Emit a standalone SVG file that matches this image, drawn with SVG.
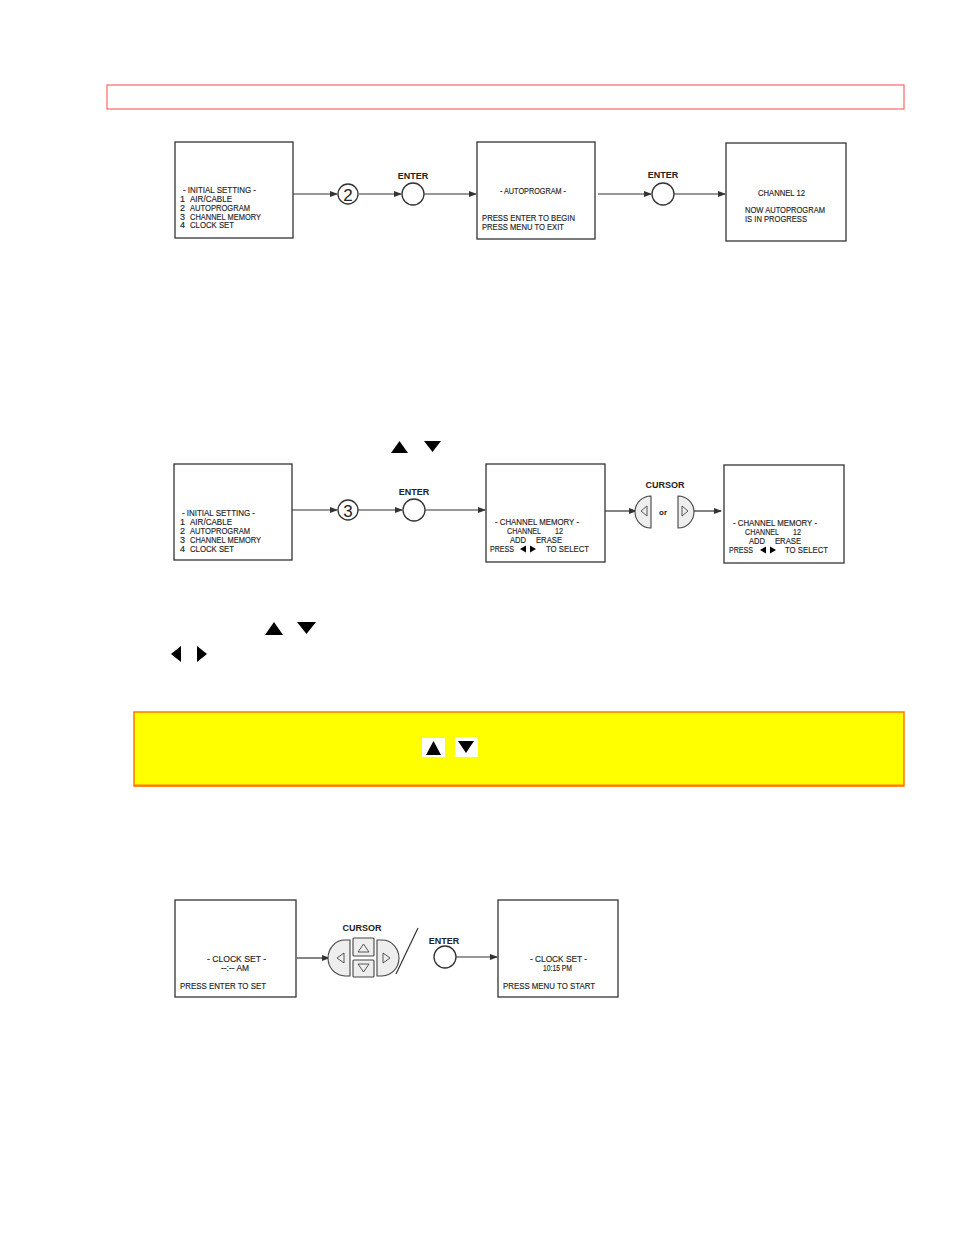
<svg xmlns="http://www.w3.org/2000/svg" width="954" height="1235" viewBox="0 0 954 1235">
<style>
.box{fill:#fff;stroke:#333;stroke-width:1.3}
.t{font-family:"Liberation Sans",Arial,sans-serif;font-size:9px;fill:#1e1e1e;stroke:#1e1e1e;stroke-width:0.15}
.c{text-anchor:middle}
.b{font-family:"Liberation Sans",Arial,sans-serif;font-size:9px;font-weight:bold;fill:#222;text-anchor:middle}
.ln{stroke:#333;stroke-width:1.2;fill:none}
.circ{fill:#fff;stroke:#333;stroke-width:1.3}
.btn{fill:#eee;stroke:#444;stroke-width:1.1}
.tri{fill:#000}
.otri{fill:none;stroke:#444;stroke-width:0.9}
.num{font-family:"Liberation Sans",Arial,sans-serif;font-size:17px;fill:#222;text-anchor:middle}
</style>
<defs>
<marker id="ah" markerWidth="8" markerHeight="6" refX="7" refY="3" orient="auto" markerUnits="userSpaceOnUse">
<path d="M0,0 L8,3 L0,6 Z" fill="#333"/>
</marker>
</defs>
<rect width="954" height="1235" fill="#fff"/>
<rect x="107" y="85" width="797" height="24" fill="none" stroke="#ff7070" stroke-width="1.3"/>

<g id="connectors">
<line class="ln" x1="293" y1="194" x2="337" y2="194" marker-end="url(#ah)"/>
<line class="ln" x1="359" y1="194" x2="401" y2="194" marker-end="url(#ah)"/>
<line class="ln" x1="424" y1="194" x2="476" y2="194" marker-end="url(#ah)"/>
<line class="ln" x1="598" y1="194" x2="651" y2="194" marker-end="url(#ah)"/>
<line class="ln" x1="674" y1="194" x2="725" y2="194" marker-end="url(#ah)"/>
<line class="ln" x1="292" y1="510" x2="337" y2="510" marker-end="url(#ah)"/>
<line class="ln" x1="358" y1="510" x2="402" y2="510" marker-end="url(#ah)"/>
<line class="ln" x1="425" y1="510" x2="485" y2="510" marker-end="url(#ah)"/>
<line class="ln" x1="605" y1="511" x2="636" y2="511" marker-end="url(#ah)"/>
<line class="ln" x1="694" y1="511" x2="721" y2="511" marker-end="url(#ah)"/>
<line class="ln" x1="297" y1="958" x2="329" y2="958" marker-end="url(#ah)"/>
<line class="ln" x1="456" y1="957" x2="497" y2="957" marker-end="url(#ah)"/>
</g>

<g id="box1">
<rect class="box" x="175" y="142" width="118" height="96"/>
<text class="t" x="183" y="193" textLength="73" lengthAdjust="spacingAndGlyphs">- INITIAL SETTING -</text>
<text class="t" x="180" y="202">1</text><text class="t" x="190" y="202" textLength="42" lengthAdjust="spacingAndGlyphs">AIR/CABLE</text>
<text class="t" x="180" y="211">2</text><text class="t" x="190" y="211" textLength="60" lengthAdjust="spacingAndGlyphs">AUTOPROGRAM</text>
<text class="t" x="180" y="219.5">3</text><text class="t" x="190" y="219.5" textLength="71" lengthAdjust="spacingAndGlyphs">CHANNEL MEMORY</text>
<text class="t" x="180" y="228">4</text><text class="t" x="190" y="228" textLength="44" lengthAdjust="spacingAndGlyphs">CLOCK SET</text>
</g>
<g id="step2">
<circle class="circ" cx="348" cy="194" r="10"/>
<text class="num" x="348" y="200.5">2</text>
</g>
<g id="enter1">
<text class="b" x="413" y="179">ENTER</text>
<circle class="circ" cx="413" cy="194" r="11"/>
</g>
<g id="box2">
<rect class="box" x="477" y="142" width="118" height="97"/>
<text class="t" x="500" y="194" textLength="66" lengthAdjust="spacingAndGlyphs">- AUTOPROGRAM -</text>
<text class="t" x="482" y="220.5" textLength="93" lengthAdjust="spacingAndGlyphs">PRESS ENTER TO BEGIN</text>
<text class="t" x="482" y="229.5" textLength="82" lengthAdjust="spacingAndGlyphs">PRESS MENU TO EXIT</text>
</g>
<g id="enter2">
<text class="b" x="663" y="178">ENTER</text>
<circle class="circ" cx="663" cy="194" r="11"/>
</g>
<g id="box3">
<rect class="box" x="726" y="143" width="120" height="98"/>
<text class="t" x="758" y="195.5" textLength="47" lengthAdjust="spacingAndGlyphs">CHANNEL  12</text>
<text class="t" x="745" y="213" textLength="80" lengthAdjust="spacingAndGlyphs">NOW AUTOPROGRAM</text>
<text class="t" x="745" y="221.5" textLength="62" lengthAdjust="spacingAndGlyphs">IS IN PROGRESS</text>
</g>

<g id="updown1">
<path class="tri" d="M391,453 L399.5,441 L408,453 Z"/>
<path class="tri" d="M424,441 L441,441 L432.5,452 Z"/>
</g>
<g id="box4">
<rect class="box" x="174" y="464" width="118" height="96"/>
<text class="t" x="182" y="516" textLength="73" lengthAdjust="spacingAndGlyphs">- INITIAL SETTING -</text>
<text class="t" x="180" y="525">1</text><text class="t" x="190" y="525" textLength="42" lengthAdjust="spacingAndGlyphs">AIR/CABLE</text>
<text class="t" x="180" y="534">2</text><text class="t" x="190" y="534" textLength="60" lengthAdjust="spacingAndGlyphs">AUTOPROGRAM</text>
<text class="t" x="180" y="543">3</text><text class="t" x="190" y="543" textLength="71" lengthAdjust="spacingAndGlyphs">CHANNEL MEMORY</text>
<text class="t" x="180" y="551.5">4</text><text class="t" x="190" y="551.5" textLength="44" lengthAdjust="spacingAndGlyphs">CLOCK SET</text>
</g>
<g id="step3">
<circle class="circ" cx="348" cy="510" r="10"/>
<text class="num" x="348" y="516.5">3</text>
</g>
<g id="enter3">
<text class="b" x="414" y="495">ENTER</text>
<circle class="circ" cx="414" cy="510" r="11"/>
</g>
<g id="box5">
<rect class="box" x="486" y="464" width="119" height="98"/>
<text class="t" x="495" y="525" textLength="84" lengthAdjust="spacingAndGlyphs">- CHANNEL MEMORY -</text>
<text class="t" x="507" y="534" textLength="34" lengthAdjust="spacingAndGlyphs">CHANNEL</text>
<text class="t" x="555" y="534" textLength="8" lengthAdjust="spacingAndGlyphs">12</text>
<text class="t" x="510" y="543" textLength="16" lengthAdjust="spacingAndGlyphs">ADD</text>
<text class="t" x="536" y="543" textLength="26" lengthAdjust="spacingAndGlyphs">ERASE</text>
<text class="t" x="490" y="552" textLength="24" lengthAdjust="spacingAndGlyphs">PRESS</text>
<path class="tri" d="M526,545.5 L526,552.5 L520,549 Z M530,545.5 L530,552.5 L536,549 Z"/>
<text class="t" x="546" y="552" textLength="43" lengthAdjust="spacingAndGlyphs">TO SELECT</text>
</g>
<g id="cursor1">
<text class="b" x="665" y="488">CURSOR</text>
<path class="btn" d="M651,496 A16,16 0 0 0 651,528 Z"/>
<path class="otri" d="M647,506 L641,511 L647,516 Z"/>
<text class="b" x="663" y="515" style="font-size:8px">or</text>
<path class="btn" d="M678,496 A16,16 0 0 1 678,528 Z"/>
<path class="otri" d="M682,506 L688,511 L682,516 Z"/>
</g>
<g id="box6">
<rect class="box" x="724" y="465" width="120" height="98"/>
<text class="t" x="733" y="526" textLength="84" lengthAdjust="spacingAndGlyphs">- CHANNEL MEMORY -</text>
<text class="t" x="745" y="535" textLength="34" lengthAdjust="spacingAndGlyphs">CHANNEL</text>
<text class="t" x="793" y="535" textLength="8" lengthAdjust="spacingAndGlyphs">12</text>
<text class="t" x="749" y="544" textLength="16" lengthAdjust="spacingAndGlyphs">ADD</text>
<text class="t" x="775" y="544" textLength="26" lengthAdjust="spacingAndGlyphs">ERASE</text>
<text class="t" x="729" y="553" textLength="24" lengthAdjust="spacingAndGlyphs">PRESS</text>
<path class="tri" d="M766,546.5 L766,553.5 L760,550 Z M770,546.5 L770,553.5 L776,550 Z"/>
<text class="t" x="785" y="553" textLength="43" lengthAdjust="spacingAndGlyphs">TO SELECT</text>
</g>

<g id="arrows-text">
<path class="tri" d="M265,635 L274,622 L283,635 Z"/>
<path class="tri" d="M297,622 L316,622 L306.5,634 Z"/>
<path class="tri" d="M181,646 L181,662 L171,654 Z"/>
<path class="tri" d="M197,646 L197,662 L207,654 Z"/>
</g>

<g id="note">
<rect x="134" y="712" width="770" height="74" fill="#ffff00" stroke="#ff7a00" stroke-width="1.5"/>
<line x1="134" y1="785.5" x2="904" y2="785.5" stroke="#ff7a00" stroke-width="2"/>
<rect x="422" y="738" width="23" height="19" fill="#fff"/>
<path class="tri" d="M426,755 L433.5,741 L441,755 Z"/>
<rect x="455" y="737" width="23" height="20" fill="#fff"/>
<path class="tri" d="M458,741 L474,741 L466,753 Z"/>
</g>

<g id="box7">
<rect class="box" x="175" y="900" width="121" height="97"/>
<text class="t" x="207" y="962" textLength="59" lengthAdjust="spacingAndGlyphs">- CLOCK SET -</text>
<text class="t" x="221" y="971" textLength="28" lengthAdjust="spacingAndGlyphs">--:-- AM</text>
<text class="t" x="180" y="989" textLength="86" lengthAdjust="spacingAndGlyphs">PRESS ENTER TO SET</text>
</g>
<g id="cursor2">
<text class="b" x="362" y="931">CURSOR</text>
<path class="btn" d="M350,940 L345,940 A17,18 0 0 0 345,976 L350,976 Z"/>
<path class="otri" d="M344,953 L337,958 L344,963 Z"/>
<rect class="btn" x="353" y="938" width="21" height="18" rx="1"/>
<path class="otri" d="M358,952 L363.5,944 L369,952 Z"/>
<rect class="btn" x="353" y="960" width="21" height="17" rx="1"/>
<path class="otri" d="M358,964 L369,964 L363.5,972 Z"/>
<path class="btn" d="M377,940 L382,940 A17,18 0 0 1 382,976 L377,976 Z"/>
<path class="otri" d="M383,953 L390,958 L383,963 Z"/>
<line class="ln" x1="396" y1="974" x2="418" y2="928"/>
</g>
<g id="enter4">
<text class="b" x="444" y="944">ENTER</text>
<circle class="circ" cx="445" cy="957" r="11"/>
</g>
<g id="box8">
<rect class="box" x="498" y="900" width="120" height="97"/>
<text class="t" x="530" y="962" textLength="57" lengthAdjust="spacingAndGlyphs">- CLOCK SET -</text>
<text class="t" x="543" y="971" textLength="29" lengthAdjust="spacingAndGlyphs">10:15 PM</text>
<text class="t" x="503" y="989" textLength="92" lengthAdjust="spacingAndGlyphs">PRESS MENU TO START</text>
</g>
</svg>
